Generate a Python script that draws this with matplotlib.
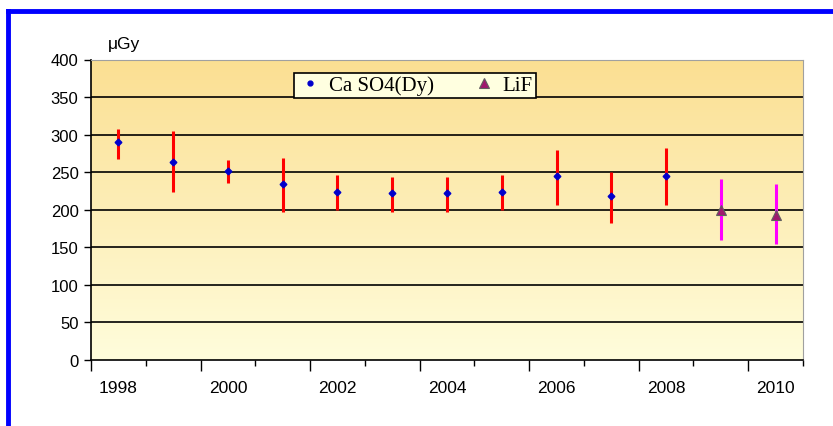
import numpy as np
import matplotlib.pyplot as plt
from matplotlib.lines import Line2D
from matplotlib.colors import LinearSegmentedColormap
import matplotlib.transforms as mtransforms

# values (uGy)
years = ['1998', '1999', '2000', '2001', '2002', '2003', '2004',
         '2005', '2006', '2007', '2008', '2009', '2010']
caso4_val = [290, 264, 252, 234, 224, 222, 222, 224, 245, 218, 245]
caso4_hi = [308, 305, 266, 269, 246, 244, 244, 246, 280, 250, 282]
caso4_lo = [268, 224, 235, 197, 200, 197, 197, 200, 206, 183, 206]
lif_val = [200, 193]
lif_hi = [241, 234]
lif_lo = [160, 154]
ytick_vals = [0, 50, 100, 150, 200, 250, 300, 350, 400]

x_ca = np.arange(len(caso4_val))
x_lif = np.arange(len(caso4_val), len(years))

fig = plt.figure(figsize=(8.33, 4.27), dpi=100)
ax = fig.add_axes([91 / 833, 1 - 361 / 427, 712 / 833, 300.5 / 427])

# gradient background of the plot area
cmap = LinearSegmentedColormap.from_list('bg', ['#FFFDDC', '#FBDF92'])
grad = np.linspace(0, 1, 256).reshape(-1, 1)
ax.imshow(grad, cmap=cmap, aspect='auto', extent=[0, 1, 0, 1],
          transform=ax.transAxes, origin='lower', zorder=0)

for v in ytick_vals[1:-1]:
    ax.axhline(v, color='black', lw=1.2, zorder=1)

err_ca = [np.array(caso4_val) - np.array(caso4_lo), np.array(caso4_hi) - np.array(caso4_val)]
err_lif = [np.array(lif_val) - np.array(lif_lo), np.array(lif_hi) - np.array(lif_val)]
ax.errorbar(x_ca, caso4_val, yerr=err_ca, fmt='none', ecolor='#FF0000',
            elinewidth=2.2, capsize=0, zorder=3)
ax.errorbar(x_lif, lif_val, yerr=err_lif, fmt='none', ecolor='#FF00FF',
            elinewidth=2.2, capsize=0, zorder=3)
ax.plot(x_ca, caso4_val, ls='none', marker='D', ms=3.4, mfc='#0000CC',
        mec='#0000CC', zorder=4)
ax.plot(x_lif, lif_val, ls='none', marker='^', ms=7, mfc='#A0186E',
        mec='#606060', mew=0.8, zorder=4)

ax.set_xlim(-0.5, len(years) - 0.5)
ax.set_ylim(0, 400)
ax.set_yticks(ytick_vals)
ax.set_yticklabels([str(v) for v in ytick_vals], fontsize=12,
                   family=['Liberation Sans', 'DejaVu Sans'])
ax.tick_params(axis='y', length=5, width=1, pad=4, colors='black')

# category axis: tall ticks every second boundary, short ones in between
bounds = np.arange(len(years) + 1) - 0.5
ax.set_xticks(bounds[::2])
ax.set_xticks(bounds[1::2], minor=True)
ax.set_xticklabels([])
ax.tick_params(axis='x', which='major', length=8, width=1, direction='out')
ax.tick_params(axis='x', which='minor', length=4, width=1, direction='out')
trans = mtransforms.blended_transform_factory(ax.transData, ax.transAxes)
for i, lab in enumerate(years):
    if i % 2 == 0:
        ax.text(i, -0.09, lab, transform=trans, ha='center', va='center',
                fontsize=12.5, family=['Liberation Sans Narrow', 'Liberation Sans'])

for s in ['top', 'right']:
    ax.spines[s].set_color('#A0A0A0')
for s in ['left', 'bottom']:
    ax.spines[s].set_color('black')
    ax.spines[s].set_linewidth(1.2)

fig.text(124 / 833, 1 - 44 / 427, 'μGy', ha='center', va='center',
         fontsize=12.5, family=['Liberation Sans Narrow', 'Liberation Sans'])

handles = [Line2D([], [], ls='none', marker='o', ms=3.5, mfc='#0000CC', mec='#0000CC'),
           Line2D([], [], ls='none', marker='^', ms=7, mfc='#A0186E', mec='#606060', mew=0.8)]
leg = ax.legend(handles, ['Ca SO4(Dy)', 'LiF'], ncol=2, loc='center',
                bbox_to_anchor=((415 - 91) / 712, (361 - 86.5) / 300.5),
                prop={'family': 'Liberation Serif', 'size': 15},
                fancybox=False, framealpha=1, facecolor='#FFFFE0',
                edgecolor='black', handlelength=1.2, handletextpad=0.3,
                columnspacing=1.8, borderpad=0.15)
leg.get_frame().set_linewidth(1.2)
leg.set_zorder(5)

# blue frame on the top and left
fig.add_artist(Line2D([8 / 833, 1], [1 - 12 / 427, 1 - 12 / 427],
                      color='#0000FF', lw=3.5, transform=fig.transFigure))
fig.add_artist(Line2D([8 / 833, 8 / 833], [0, 1 - 12 / 427],
                      color='#0000FF', lw=3.5, transform=fig.transFigure))

fig.savefig('out.png', dpi=100)
